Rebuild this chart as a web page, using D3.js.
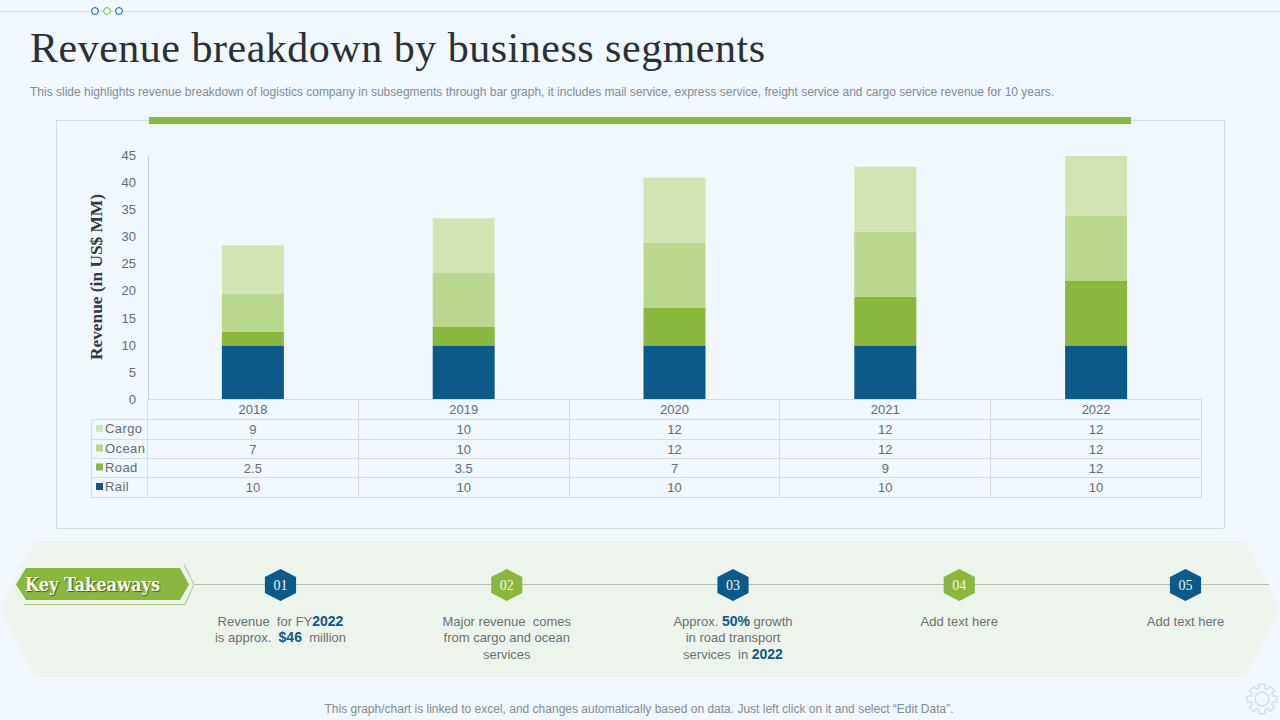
<!DOCTYPE html>
<html>

<head>
    <meta charset="utf-8">
    <style>
        html, body {
            margin: 0;
            padding: 0;
            background: #f0f7fd;
        }

        svg {
            display: block;
            font-family: 'Liberation Sans', Arial, sans-serif;
        }

        .y .domain {
            stroke: #c8d0d8;
        }

        .y .tick line {
            display: none;
        }

        .y .tick text {
            font-size: 13px;
            fill: #666c72;
        }
    </style>
</head>

<body>
    <svg width="1280" height="720"></svg>

    <script src="https://d3js.org/d3.v7.min.js"></script>
    <script>
        // chart values
        let years = ["2018", "2019", "2020", "2021", "2022"]
        let segments = ["Rail", "Road", "Ocean", "Cargo"]
        let rail = [10, 10, 10, 10, 10]
        let road = [2.5, 3.5, 7, 9, 12]
        let ocean = [7, 10, 12, 12, 12]
        let cargo = [9, 10, 12, 12, 12]
        let yTicks = [0, 5, 10, 15, 20, 25, 30, 35, 40, 45]

        let tableRows = ["Cargo", "Ocean", "Road", "Rail"]
        let seriesValues = { Rail: rail, Road: road, Ocean: ocean, Cargo: cargo }
        let colors = { Rail: "#0b5a8a", Road: "#8ab83f", Ocean: "#bad78e", Cargo: "#d3e4b3" }

        let takeaways = [
            { num: "01", color: "#0b5a8a", lines: [[["Revenue  for FY"], ["2022", 1]], [["is approx.  "], ["$46", 1], ["  million"]]] },
            { num: "02", color: "#8ab83f", lines: [[["Major revenue  comes"]], [["from cargo and ocean"]], [["services"]]] },
            { num: "03", color: "#0b5a8a", lines: [[["Approx. "], ["50%", 1], [" growth"]], [["in road transport"]], [["services  in "], ["2022", 1]]] },
            { num: "04", color: "#8ab83f", lines: [[["Add text here"]]] },
            { num: "05", color: "#0b5a8a", lines: [[["Add text here"]]] }
        ]

        let svg = d3.select("svg")
        let serif = "'Liberation Serif', serif"

        // header
        svg.append("line").attr("x1", 0).attr("x2", 1280).attr("y1", 11.5).attr("y2", 11.5)
            .attr("stroke", "#d5dee8").attr("stroke-width", 1)

        svg.selectAll(".dot")
            .data(["#0b5a8a", "#8ab83f", "#0b5a8a"])
            .join("circle")
            .attr("cx", (d, i) => 95 + i * 12)
            .attr("cy", 11)
            .attr("r", 3.4)
            .attr("fill", "#f0f7fd")
            .attr("stroke", d => d)

        svg.append("text").attr("x", 30).attr("y", 61.5)
            .attr("font-family", serif).attr("font-size", 42).attr("fill", "#2a3036")
            .attr("textLength", 735).attr("lengthAdjust", "spacing")
            .text("Revenue breakdown by business segments")

        svg.append("text").attr("x", 30).attr("y", 96)
            .attr("font-size", 12).attr("fill", "#858c93")
            .attr("textLength", 1024).attr("lengthAdjust", "spacing")
            .text("This slide highlights revenue breakdown of logistics company in subsegments through bar graph, it includes mail service, express service, freight service and cargo service revenue for 10 years.")

        // chart panel
        svg.append("rect").attr("x", 56.5).attr("y", 120.5).attr("width", 1168).attr("height", 408)
            .attr("fill", "none").attr("stroke", "#d5dfd9")

        svg.append("rect").attr("x", 149).attr("y", 117).attr("width", 982).attr("height", 7)
            .attr("fill", "#8ab83f")

        // scales
        let x = d3.scaleBand().domain(years).range([147.5, 1201.5])
        let y = d3.scaleLinear().domain([0, 45]).range([399.5, 156]).clamp(true)
        let barWidth = 62

        let stacked = d3.stack().keys(segments)(years.map((yr, i) => {
            let row = {}
            segments.forEach(s => { row[s] = seriesValues[s][i] })
            return row
        }))

        svg.append("g")
            .selectAll("g")
            .data(stacked)
            .join("g")
            .attr("fill", d => colors[d.key])
            .selectAll("rect")
            .data(d => d)
            .join("rect")
            .attr("x", (d, i) => x(years[i]) + x.bandwidth() / 2 - barWidth / 2)
            .attr("width", barWidth)
            .attr("y", d => y(d[1]))
            .attr("height", d => y(d[0]) - y(d[1]))

        let yAxis = svg.append("g")
            .attr("class", "y axis")
            .attr("transform", "translate(148,-0.5)")
            .call(d3.axisLeft(y).tickValues(yTicks).tickSize(0).tickPadding(12))
        yAxis.select(".domain").attr("d", "M0.5,156V400")

        svg.append("text")
            .attr("transform", "translate(102,277) rotate(-90)")
            .attr("text-anchor", "middle")
            .attr("font-family", serif).attr("font-size", 16.5).attr("font-weight", "bold").attr("fill", "#33383d")
            .attr("textLength", 166).attr("lengthAdjust", "spacingAndGlyphs")
            .text("Revenue (in US$ MM)")

        // data table
        let rowEdges = [399.5, 419.5, 439.5, 458.5, 477.5, 497.5]
        let gridColor = "#d7dce0"
        let textColor = "#666c72"
        let grid = svg.append("g").attr("stroke", gridColor).attr("stroke-width", 1)

        rowEdges.forEach((ry, i) => {
            grid.append("line").attr("x1", i == 0 ? 148 : 91.5).attr("x2", 1202).attr("y1", ry).attr("y2", ry)
        })
        grid.append("line").attr("x1", 91.5).attr("x2", 91.5).attr("y1", 419.5).attr("y2", 497.5)
        grid.append("line").attr("x1", 147.5).attr("x2", 147.5).attr("y1", 399.5).attr("y2", 497.5)
        years.forEach(yr => {
            let edge = Math.floor(x(yr) + x.bandwidth()) + 0.5
            grid.append("line").attr("x1", edge).attr("x2", edge).attr("y1", 399.5).attr("y2", 497.5)
        })

        svg.append("g").selectAll("text")
            .data(years)
            .join("text")
            .attr("x", d => x(d) + x.bandwidth() / 2)
            .attr("y", 414)
            .attr("text-anchor", "middle").attr("font-size", 13).attr("fill", textColor)
            .text(d => d)

        tableRows.forEach((name, r) => {
            let top = rowEdges[r + 1], bottom = rowEdges[r + 2]
            let mid = (top + bottom) / 2

            svg.append("rect").attr("x", 96).attr("y", mid - 4.5).attr("width", 7).attr("height", 7)
                .attr("fill", colors[name])
            svg.append("text").attr("x", 105).attr("y", mid + 3.5)
                .attr("font-size", 13).attr("letter-spacing", 0.4).attr("fill", textColor).text(name)

            svg.append("g").selectAll("text")
                .data(seriesValues[name])
                .join("text")
                .attr("x", (d, i) => x(years[i]) + x.bandwidth() / 2)
                .attr("y", mid + 4.5)
                .attr("text-anchor", "middle").attr("font-size", 13).attr("fill", textColor)
                .text(d => d)
        })

        // key takeaways band
        svg.append("path")
            .attr("d", "M35,541H1245L1280,609L1245,677H35L0,609Z")
            .attr("fill", "#edf4ec")

        let centers = d3.scalePoint().domain(takeaways.map(d => d.num)).range([280.5, 1185.5])

        svg.append("line").attr("x1", 195).attr("x2", 1269).attr("y1", 584.5).attr("y2", 584.5)
            .attr("stroke", "#b5bfb0").attr("stroke-width", 1)

        svg.append("path").attr("d", "M16,584.5L26,568H180L189,584.5L180,600H26Z").attr("fill", "#8ab83f")
        svg.append("path").attr("d", "M184,564.5L194,584.5L185,604.5H24")
            .attr("fill", "none").attr("stroke", "#a9c77e").attr("stroke-width", 1)

        svg.append("text").attr("x", 25).attr("y", 591)
            .attr("font-family", "'DejaVu Serif', serif").attr("font-size", 18).attr("font-weight", "bold").attr("fill", "#f7fbee")
            .style("text-shadow", "1px 1px 1px #3d5a1a")
            .attr("textLength", 135).attr("lengthAdjust", "spacingAndGlyphs")
            .text("Key Takeaways")

        // flat top and bottom points, a bit wider than a regular hexagon
        let hex = d3.line()(d3.range(6).map(i => {
            let a = Math.PI / 3 * i - Math.PI / 2
            return [18 * Math.cos(a), 16 * Math.sin(a)]
        })) + "Z"

        let items = svg.append("g").selectAll("g")
            .data(takeaways)
            .join("g")
            .attr("transform", d => `translate(${centers(d.num)},585)`)

        items.append("path").attr("d", hex).attr("fill", d => d.color)
        items.append("text")
            .attr("y", 5).attr("text-anchor", "middle")
            .attr("font-family", serif).attr("font-size", 14).attr("fill", "#f2f6ee")
            .text(d => d.num)

        items.each(function (d) {
            let g = d3.select(this)
            d.lines.forEach((line, i) => {
                let t = g.append("text")
                    .attr("y", 40.5 + i * 16.5)
                    .attr("text-anchor", "middle").attr("font-size", 13).attr("fill", "#6a7175")
                    .style("white-space", "pre")
                line.forEach(part => {
                    t.append("tspan")
                        .attr("font-weight", part[1] ? "bold" : "normal")
                        .attr("font-size", part[1] ? 14 : null)
                        .attr("fill", part[1] ? "#0b5a8a" : null)
                        .text(part[0])
                })
            })
        })

        // footer
        svg.append("text").attr("x", 639).attr("y", 713)
            .attr("text-anchor", "middle").attr("font-size", 12).attr("fill", "#858c93")
            .text("This graph/chart is linked to excel,  and changes automatically based on data. Just left click on it and select \u201cEdit Data\u201d.")

        // gear icon
        let gear = svg.append("g").attr("transform", "translate(1262,699)")
            .attr("fill", "none").attr("stroke", "#cfe0ee").attr("stroke-width", 1.5)
        gear.append("circle").attr("r", 7)
        gear.append("path").attr("d", d3.range(8).map(i => {
            let a = Math.PI / 4 * i, b = a + Math.PI / 8
            let pt = (r, t) => [r * Math.cos(t), r * Math.sin(t)].join(",")
            return `${i ? "L" : "M"}${pt(15, a - 0.2)}L${pt(15, a + 0.2)}L${pt(11, b - 0.12)}L${pt(11, b + 0.12)}`
        }).join("") + "Z")
    </script>
</body>

</html>
